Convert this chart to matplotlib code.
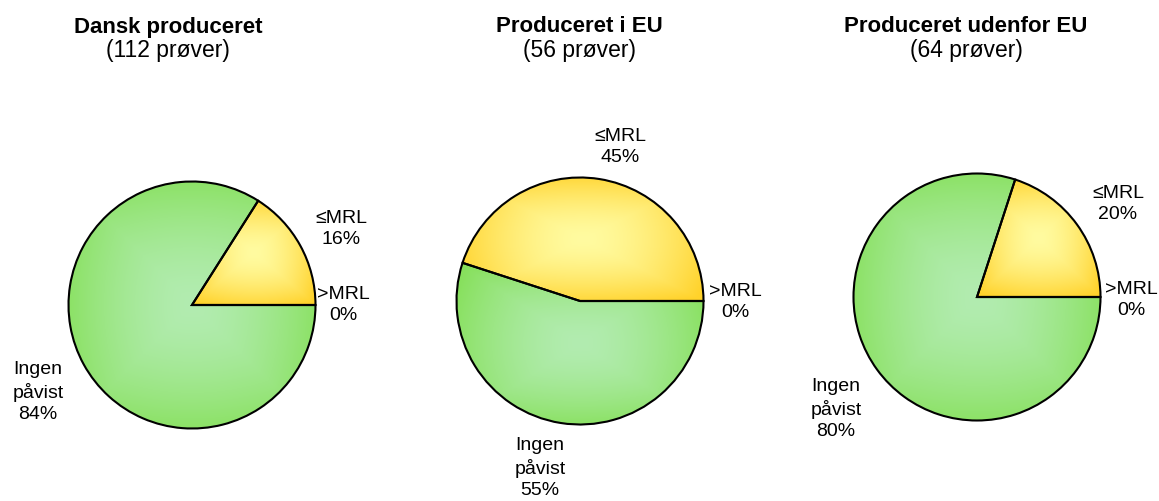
import numpy as np
import matplotlib
matplotlib.use("Agg")
import matplotlib.pyplot as plt
from matplotlib.colors import to_rgb

plt.rcParams['font.family'] = ['Liberation Sans', 'DejaVu Sans']

titles = ["Dansk produceret", "Produceret i EU", "Produceret udenfor EU"]
samples = [112, 56, 64]
categories = [">MRL", "≤MRL", "Ingen\npåvist"]
# percentages per chart, order: >MRL, <=MRL, Ingen påvist
values = [
    [0, 16, 84],
    [0, 45, 55],
    [0, 20, 80],
]

edge_cols = ["#FFD22A", "#FFD22A", "#86E05A"]
center_cols = ["#FFFBA0", "#FFFBA0", "#B2ECB0"]

W, H = 1159, 502
fig = plt.figure(figsize=(W / 100, H / 100), dpi=100)
ax = fig.add_axes([0, 0, 1, 1])
ax.set_xlim(0, W)
ax.set_ylim(0, H)
ax.set_aspect('equal')
ax.axis('off')

centers = [(192, H - 306), (580, H - 302), (977, H - 298)]
radius = 123.5
title_x = [168, 579, 966]

# label positions (pixel coords, y from top) per chart, per category
label_pos = [
    [(343, 305), (341, 229), (38, 392)],
    [(735, 302), (620, 147), (540, 468)],
    [(1131, 300), (1118, 204), (836, 409)],
]


def gradient_fill(wedge, c_edge, c_center):
    path = wedge.get_path()
    ext = path.get_extents()
    x0, y0, x1, y1 = ext.x0, ext.y0, ext.x1, ext.y1
    if x1 - x0 < 1e-6 or y1 - y0 < 1e-6:
        return
    n = 300
    xs = np.linspace(-1, 1, n)
    X, Y = np.meshgrid(xs, xs)
    t = np.clip(np.sqrt(0.5 * (X ** 2 + Y ** 2)) * 0.5 + 0.55 * np.maximum(np.abs(X), np.abs(Y)), 0, 1)
    t = t ** 1.6
    ce = np.array(to_rgb(c_edge))
    cc = np.array(to_rgb(c_center))
    img = cc[None, None, :] * (1 - t[..., None]) + ce[None, None, :] * t[..., None]
    im = ax.imshow(img, extent=(x0, x1, y0, y1), origin='lower', zorder=1,
                   interpolation='bilinear')
    im.set_clip_path(wedge)


for i in range(3):
    wedges, _ = ax.pie(values[i], center=centers[i], radius=radius,
                       startangle=0, counterclock=True,
                       colors=['none'] * 3,
                       wedgeprops=dict(edgecolor='black', linewidth=1.5, zorder=2),
                       frame=True)
    for j, w in enumerate(wedges):
        gradient_fill(w, edge_cols[j], center_cols[j])
    for j, cat in enumerate(categories):
        lx, ly = label_pos[i][j]
        ax.text(lx, H - ly, f"{cat}\n{values[i][j]}%", ha='center', va='center',
                fontsize=14, linespacing=1.3, color='black')
    ax.text(title_x[i], H - 27, titles[i], ha='center', va='center',
            fontsize=16, fontweight='bold')
    ax.text(title_x[i], H - 50, f"({samples[i]} prøver)", ha='center', va='center',
            fontsize=16.5)

ax.set_xlim(0, W)
ax.set_ylim(0, H)
ax.axis('off')
fig.savefig("out.png", dpi=100)
